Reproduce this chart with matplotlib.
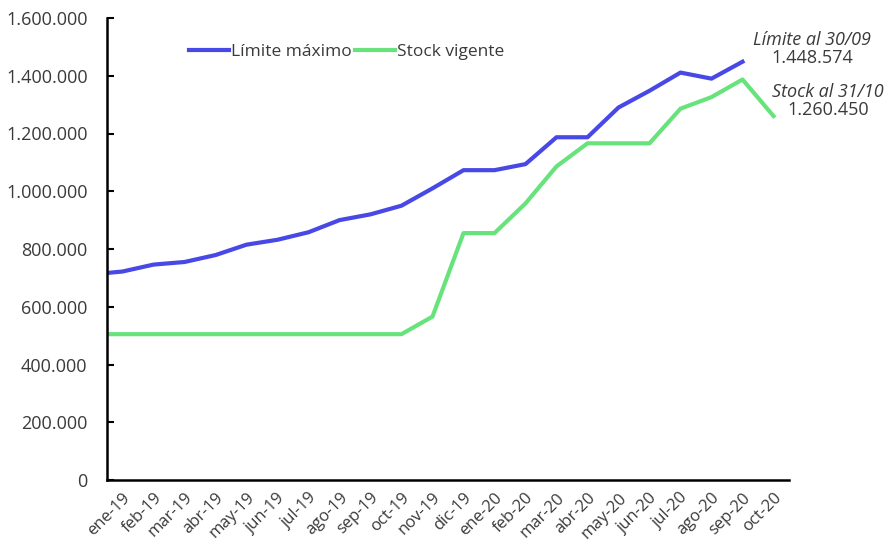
import numpy as np
import matplotlib
matplotlib.use("Agg")
import matplotlib.pyplot as plt
from matplotlib.ticker import FuncFormatter

plt.rcParams["font.family"] = ["Open Sans", "DejaVu Sans"]

# meses (dic-18 solo para que la serie entre desde el borde del eje)
meses = ["dic-18",
         "ene-19", "feb-19", "mar-19", "abr-19", "may-19", "jun-19",
         "jul-19", "ago-19", "sep-19", "oct-19", "nov-19", "dic-19",
         "ene-20", "feb-20", "mar-20", "abr-20", "may-20", "jun-20",
         "jul-20", "ago-20", "sep-20", "oct-20"]

limite_maximo = [712000,
                 722000, 746000, 755000, 779000, 815000, 832000,
                 858000, 900000, 920000, 950000, 1010000, 1073000,
                 1073000, 1094000, 1187000, 1187000, 1290000, 1348000,
                 1411000, 1390000, 1448574, np.nan]

stock_vigente = [505000,
                 505000, 505000, 505000, 505000, 505000, 505000,
                 505000, 505000, 505000, 505000, 566000, 855000,
                 855000, 958000, 1086000, 1166000, 1166000, 1166000,
                 1286000, 1326000, 1387000, 1260450]

color_limite = "#4848E6"
color_stock = "#68E37C"
color_texto = "#3a3a3a"

x = np.arange(len(meses)) - 1

fig = plt.figure(figsize=(8.86, 5.41), dpi=100)
ax = fig.add_axes([107 / 886, 61 / 541, 682 / 886, 462 / 541])

ax.plot(x, limite_maximo, color=color_limite, lw=3, label="Límite máximo")
ax.plot(x, stock_vigente, color=color_stock, lw=3, label="Stock vigente")

ax.set_xlim(-0.5, len(meses) - 1.5)
ax.set_ylim(0, 1600000)
ax.set_yticks(np.arange(0, 1600001, 200000))
ax.yaxis.set_major_formatter(
    FuncFormatter(lambda v, p: f"{int(v):,}".replace(",", ".")))

ax.set_xticks(x[1:])
ax.set_xticklabels(meses[1:], rotation=45, ha="right", va="top",
                   rotation_mode="anchor")

ax.tick_params(axis="y", direction="in", length=5, width=1.5,
               labelsize=13, labelcolor=color_texto, pad=14)
ax.tick_params(axis="x", length=0, labelsize=12, labelcolor=color_texto,
               pad=7)

for s in ["top", "right"]:
    ax.spines[s].set_visible(False)
for s in ["left", "bottom"]:
    ax.spines[s].set_linewidth(1.8)

ax.legend(loc="upper left", bbox_to_anchor=(0.098, 0.978), ncol=2,
          frameon=False, fontsize=12.5, handlelength=2.3, handletextpad=0.1,
          columnspacing=0.2, labelcolor=color_texto)

# anotaciones a la derecha
fig.text(812 / 886, 1 - 40 / 541, "Límite al 30/09", ha="center",
         va="center", style="italic", fontsize=13, color=color_texto)
fig.text(812 / 886, 1 - 58 / 541, "1.448.574", ha="center", va="center",
         fontsize=13, color=color_texto)
fig.text(828 / 886, 1 - 92 / 541, "Stock al 31/10", ha="center",
         va="center", style="italic", fontsize=13, color=color_texto)
fig.text(828 / 886, 1 - 110 / 541, "1.260.450", ha="center", va="center",
         fontsize=13, color=color_texto)

fig.savefig("out.png", dpi=100)
